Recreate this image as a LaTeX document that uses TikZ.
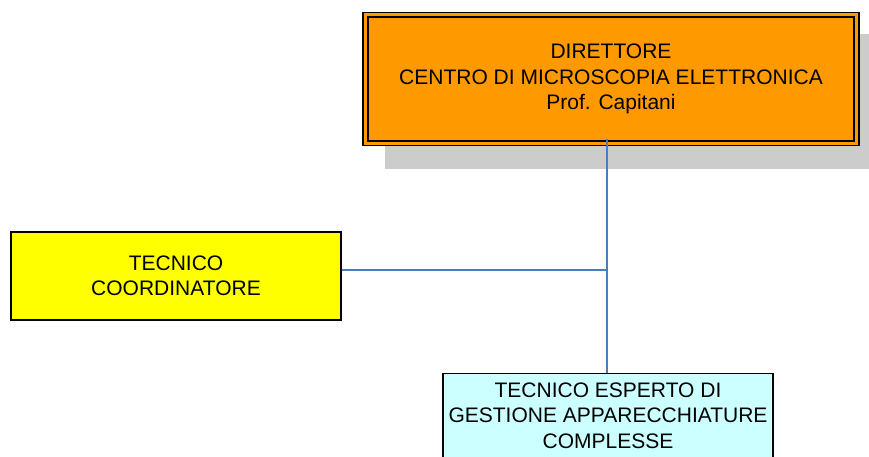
\documentclass[tikz,border=0pt]{standalone}
\usepackage{fontspec}
\setmainfont{Liberation Sans}
\definecolor{dirfill}{HTML}{FF9900}
\definecolor{coordfill}{HTML}{FFFF00}
\definecolor{techfill}{HTML}{CCFFFF}
\definecolor{shadowgray}{HTML}{CCCCCC}
\definecolor{linkblue}{HTML}{4A7EBB}
\begin{document}
\begin{tikzpicture}[x=1pt,y=-1pt,
  boxfont/.style={font=\fontsize{21}{25.5}\selectfont},
  orgbox/.style={draw=black, line width=1.3pt, align=center, inner sep=0pt, boxfont},
  link/.style={draw=linkblue, line width=1.4pt}]
  \useasboundingbox (0,0) rectangle (869,456);
  \clip (0,0) rectangle (869,456);

  % drop shadow behind the director box
  \fill[shadowgray] (385,34) rectangle (869,169);

  % director box with double border
  \node[orgbox, fill=dirfill, double=dirfill, double distance=3pt, line width=1.6pt,
        minimum width=491pt, minimum height=128.5pt] (dir) at (611,79)
    {DIRETTORE\\CENTRO DI MICROSCOPIA ELETTRONICA\\Prof. Capitani};

  % coordinating technician
  \node[orgbox, fill=coordfill, minimum width=330pt, minimum height=88pt] (coord) at (176,276)
    {TECNICO\\COORDINATORE};

  % expert technician (runs off the bottom edge)
  \node[orgbox, fill=techfill, minimum width=330pt, minimum height=110pt, anchor=north]
    (tech) at (608,373) {};
  \node[boxfont, align=center, anchor=north, inner sep=0pt] (techtxt)
    at (608,382.5) {TECNICO ESPERTO DI\\GESTIONE APPARECCHIATURE\\COMPLESSE};

  % connectors
  \coordinate (top) at (607,139);
  \coordinate (j) at (607,270);
  \draw[link] (top) -- (j) -- (tech.north -| j);
  \draw[link] (coord.east |- j) -- (j);
\end{tikzpicture}
\end{document}
